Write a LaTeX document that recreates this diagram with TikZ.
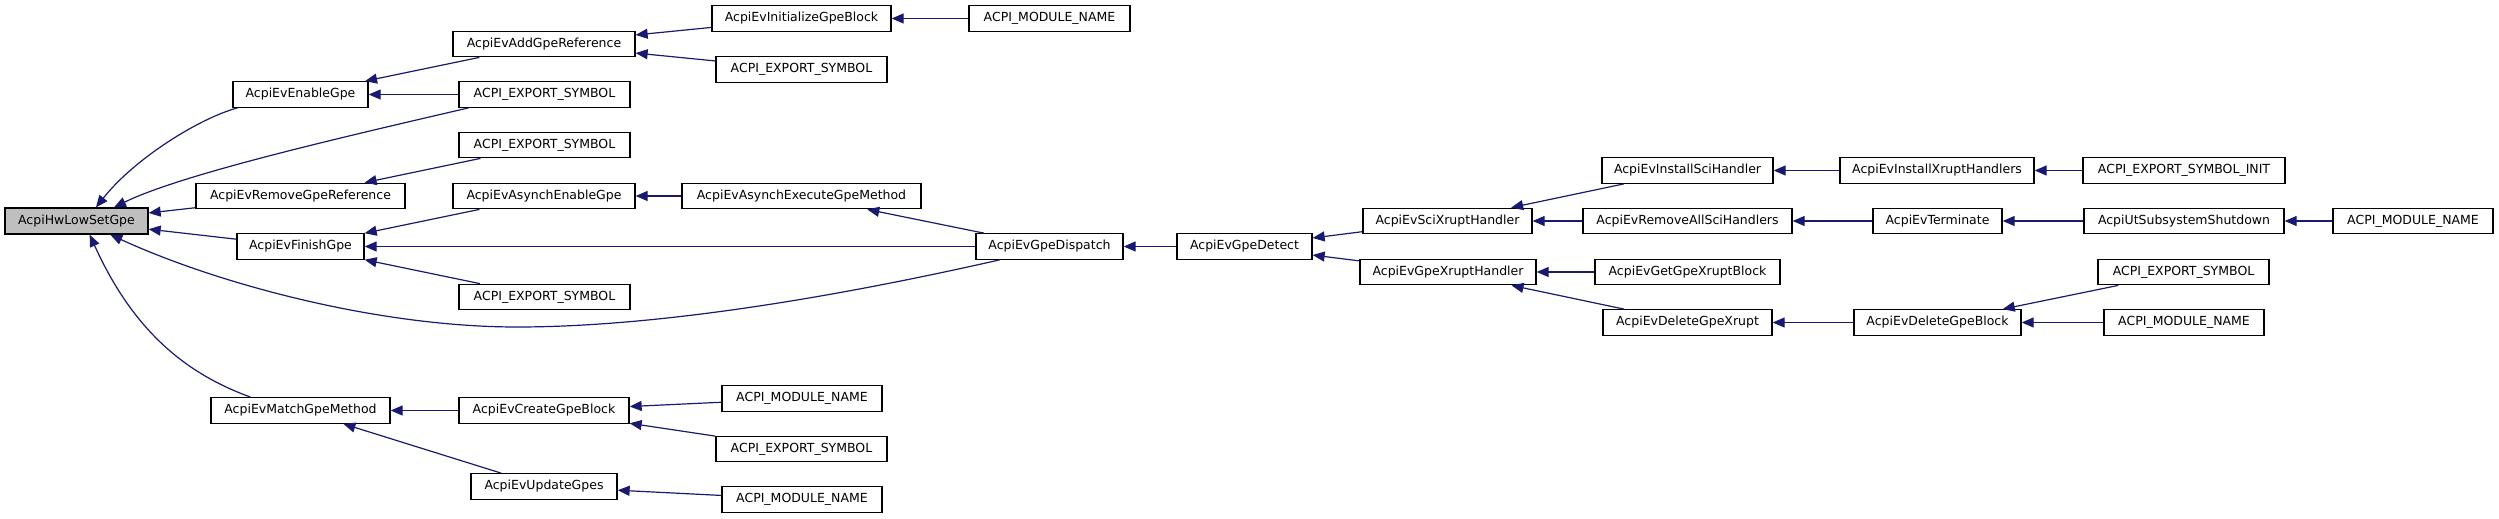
\documentclass[tikz,border=0pt]{standalone}
\usepackage{fontspec}
\setmainfont{DejaVu Sans}
\usetikzlibrary{arrows.meta}
\definecolor{edgeblue}{HTML}{191970}
\definecolor{lowgrey}{HTML}{BFBFBF}
\begin{document}
\begin{tikzpicture}[x=1pt,y=-1pt,
  box/.style={draw=black, line width=1.3pt, fill=white, minimum height=25.5pt, inner sep=0pt, font=\fontsize{12.5}{15}\selectfont},
  edge/.style={draw=edgeblue, line width=1.2pt, -{Triangle[length=12pt,width=10pt]}}]
\useasboundingbox (0,0) rectangle (2499,519);
% nodes
\node[box,fill=lowgrey,minimum width=143pt,minimum height=26pt] (low) at (76.5,221) {AcpiHwLowSetGpe};
\node[box,minimum width=135pt] (enable) at (300.5,94.5) {AcpiEvEnableGpe};
\node[box,minimum width=182pt] (addref) at (544,44) {AcpiEvAddGpeReference};
\node[box,minimum width=179pt] (initblk) at (801.5,18.5) {AcpiEvInitializeGpeBlock};
\node[box,minimum width=171pt] (expA) at (801.5,69.5) {ACPI\_EXPORT\_SYMBOL};
\node[box,minimum width=171pt] (expB) at (544.5,94.5) {ACPI\_EXPORT\_SYMBOL};
\node[box,minimum width=171pt] (expC) at (544.5,145) {ACPI\_EXPORT\_SYMBOL};
\node[box,minimum width=209pt] (removeref) at (300.5,196) {AcpiEvRemoveGpeReference};
\node[box,minimum width=182pt] (asyncen) at (544,196) {AcpiEvAsynchEnableGpe};
\node[box,minimum width=239pt] (asyncexec) at (801.5,196) {AcpiEvAsynchExecuteGpeMethod};
\node[box,minimum width=127pt] (finish) at (300.5,246.5) {AcpiEvFinishGpe};
\node[box,minimum width=171pt] (expD) at (544.5,297) {ACPI\_EXPORT\_SYMBOL};
\node[box,minimum width=179pt] (match) at (300.5,410.5) {AcpiEvMatchGpeMethod};
\node[box,minimum width=170pt] (create) at (544,410.5) {AcpiEvCreateGpeBlock};
\node[box,minimum width=160pt] (modB) at (802,398.5) {ACPI\_MODULE\_NAME};
\node[box,minimum width=171pt] (expE) at (801.5,449) {ACPI\_EXPORT\_SYMBOL};
\node[box,minimum width=146pt] (update) at (544,486.5) {AcpiEvUpdateGpes};
\node[box,minimum width=160pt] (modC) at (802,499.5) {ACPI\_MODULE\_NAME};
\node[box,minimum width=161pt] (modA) at (1049.5,18.5) {ACPI\_MODULE\_NAME};
\node[box,minimum width=147pt] (dispatch) at (1049.5,246.5) {AcpiEvGpeDispatch};
\node[box,minimum width=135pt] (detect) at (1244.5,246.5) {AcpiEvGpeDetect};
\node[box,minimum width=169pt] (scix) at (1447.5,221) {AcpiEvSciXruptHandler};
\node[box,minimum width=176pt] (gpex) at (1448,272) {AcpiEvGpeXruptHandler};
\node[box,minimum width=171pt] (instsci) at (1687.5,170.5) {AcpiEvInstallSciHandler};
\node[box,minimum width=209pt] (remall) at (1687.5,221) {AcpiEvRemoveAllSciHandlers};
\node[box,minimum width=185pt] (getblk) at (1687.5,272) {AcpiEvGetGpeXruptBlock};
\node[box,minimum width=169pt] (delx) at (1687.5,322.5) {AcpiEvDeleteGpeXrupt};
\node[box,minimum width=194pt] (instx) at (1937,170.5) {AcpiEvInstallXruptHandlers};
\node[box,minimum width=202pt] (expinit) at (2184,170.5) {ACPI\_EXPORT\_SYMBOL\_INIT};
\node[box,minimum width=129pt] (term) at (1937.5,221) {AcpiEvTerminate};
\node[box,minimum width=200pt] (shutdown) at (2184,221) {AcpiUtSubsystemShutdown};
\node[box,minimum width=160pt] (modD) at (2413,221) {ACPI\_MODULE\_NAME};
\node[box,minimum width=171pt] (expF) at (2183.5,272) {ACPI\_EXPORT\_SYMBOL};
\node[box,minimum width=167pt] (delblk) at (1937.5,322.5) {AcpiEvDeleteGpeBlock};
\node[box,minimum width=160pt] (modE) at (2184,322.5) {ACPI\_MODULE\_NAME};
% edges into AcpiHwLowSetGpe
\draw[edge] (enable.192) .. controls (200,118) and (135,158) .. (low.35);
\draw[edge] (expB.190) .. controls (330,140) and (180,175) .. (low.20);
\draw[edge] (removeref) -- (low);
\draw[edge] (finish) -- (low);
\draw[edge] (dispatch.195) .. controls (880,287) and (680,327) .. (517,327)
  .. controls (380,327) and (220,285) .. (low.-22);
\draw[edge] (match.165) .. controls (190,375) and (135,335) .. (low.-46);
% other edges
\draw[edge] (addref) -- (enable);
\draw[edge] (initblk) -- (addref);
\draw[edge] (expA) -- (addref);
\draw[edge] (expB) -- (enable);
\draw[edge] (expC) -- (removeref);
\draw[edge] (asyncen) -- (finish);
\draw[edge] (dispatch) -- (finish);
\draw[edge] (expD) -- (finish);
\draw[edge] (asyncexec) -- (asyncen);
\draw[edge] (dispatch) -- (asyncexec);
\draw[edge] (modA) -- (initblk);
\draw[edge] (create) -- (match);
\draw[edge] (update) -- (match);
\draw[edge] (modB) -- (create);
\draw[edge] (expE) -- (create);
\draw[edge] (modC) -- (update);
\draw[edge] (detect) -- (dispatch);
\draw[edge] (scix) -- (detect);
\draw[edge] (gpex) -- (detect);
\draw[edge] (instsci) -- (scix);
\draw[edge] (remall) -- (scix);
\draw[edge] (getblk) -- (gpex);
\draw[edge] (delx) -- (gpex);
\draw[edge] (instx) -- (instsci);
\draw[edge] (expinit) -- (instx);
\draw[edge] (term) -- (remall);
\draw[edge] (shutdown) -- (term);
\draw[edge] (modD) -- (shutdown);
\draw[edge] (delblk) -- (delx);
\draw[edge] (expF) -- (delblk);
\draw[edge] (modE) -- (delblk);
\end{tikzpicture}
\end{document}
